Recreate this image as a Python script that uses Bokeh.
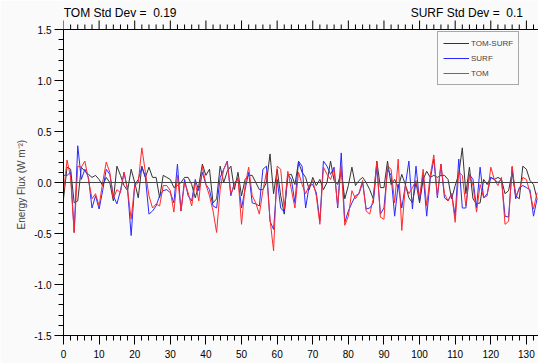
from bokeh.plotting import figure
from bokeh.models import (ColumnDataSource, Range1d, SingleIntervalTicker,
                          PrintfTickFormatter, Span, Legend, LegendItem, Label)
from bokeh.embed import file_html
from bokeh.resources import INLINE

# ---- data ----
time_index = list(range(134))
tom = [-0.10, 0.22, 0.05, -0.49, 0.16, 0.15, 0.21, 0.03, -0.16, -0.11,
       -0.23, 0.00, 0.20, 0.10, -0.16, -0.07, -0.10, 0.10, -0.07, -0.36,
       -0.03, 0.00, 0.34, 0.10, -0.13, -0.25, -0.21, -0.23, -0.03, -0.03,
       -0.08, -0.29, 0.07, -0.28, 0.00, -0.10, -0.23, 0.00, -0.18, 0.16,
       -0.02, -0.13, -0.28, -0.49, -0.07, 0.13, 0.20, -0.11, -0.03, 0.05,
       -0.41, -0.03, 0.15, -0.13, -0.20, -0.31, -0.08, 0.10, -0.36, -0.67,
       0.16, 0.13, -0.26, 0.11, -0.07, -0.25, 0.10, -0.02, -0.11, -0.03,
       0.02, -0.13, -0.41, 0.15, 0.08, 0.03, 0.13, -0.23, 0.16, -0.42,
       -0.33, -0.08, -0.16, -0.10, 0.02, -0.28, -0.31, -0.16, 0.20, -0.34,
       -0.36, 0.16, 0.13, -0.20, 0.23, -0.47, -0.03, -0.11, -0.05, 0.02,
       -0.15, 0.13, -0.23, 0.07, 0.27, -0.13, 0.18, -0.11, -0.18, -0.11,
       -0.39, 0.10, 0.07, -0.23, 0.08, -0.03, -0.29, -0.02, -0.15, -0.13,
       0.15, 0.03, -0.03, 0.05, -0.41, -0.38, 0.16, -0.13, -0.07, 0.05,
       0.03, -0.10, -0.26, -0.10]
surf = [0.07, 0.07, 0.10, -0.49, 0.36, 0.03, 0.13, 0.05, -0.25, -0.13,
        -0.26, -0.08, 0.13, 0.08, -0.13, -0.21, -0.08, 0.10, -0.07, -0.52,
        -0.02, 0.03, 0.15, 0.05, -0.31, -0.28, -0.23, -0.13, -0.08, -0.07,
        -0.10, -0.20, 0.18, -0.28, 0.03, -0.13, -0.18, 0.03, -0.08, 0.10,
        -0.02, -0.07, -0.23, -0.25, 0.05, 0.13, 0.21, -0.13, 0.00, 0.03,
        -0.25, -0.07, 0.10, -0.20, -0.21, -0.23, 0.13, 0.16, -0.38, -0.46,
        0.03, -0.25, -0.29, 0.08, 0.03, -0.20, 0.21, 0.16, -0.25, -0.03,
        -0.02, -0.10, -0.38, 0.21, 0.16, 0.08, 0.15, -0.25, 0.29, -0.39,
        -0.28, -0.20, -0.13, -0.11, 0.00, -0.26, -0.25, -0.20, 0.16, -0.31,
        -0.25, 0.13, 0.07, -0.33, -0.02, -0.25, -0.03, 0.21, -0.26, 0.16,
        -0.18, 0.08, -0.33, 0.03, 0.23, -0.15, 0.18, -0.15, -0.18, -0.11,
        -0.33, 0.23, -0.25, -0.25, 0.08, 0.03, -0.25, 0.15, -0.15, -0.11,
        0.05, 0.03, 0.00, 0.03, -0.33, -0.34, 0.15, -0.16, -0.05, -0.03,
        -0.05, -0.07, -0.33, -0.16]
tom_minus_surf = [-0.16, 0.15, 0.13, -0.20, -0.18, 0.15, 0.11, 0.08, 0.05, 0.07,
                  0.03, -0.03, 0.05, 0.00, -0.18, 0.16, 0.07, -0.03, -0.08, 0.13,
                  0.00, -0.15, 0.16, 0.05, 0.15, 0.05, 0.05, -0.15, 0.07, 0.05,
                  0.03, -0.05, -0.03, 0.00, 0.05, 0.05, -0.02, -0.15, -0.03, 0.18,
                  0.07, 0.13, -0.20, -0.16, 0.16, 0.00, 0.11, 0.16, -0.07, 0.10,
                  -0.13, 0.03, 0.07, 0.07, 0.00, -0.07, -0.07, 0.00, 0.28, -0.11,
                  0.13, -0.13, -0.31, 0.07, 0.08, -0.02, 0.20, 0.10, 0.05, -0.07,
                  0.05, -0.03, 0.03, -0.07, 0.00, 0.21, 0.02, -0.02, 0.11, -0.16,
                  -0.03, 0.15, -0.03, 0.02, 0.05, 0.00, -0.07, -0.16, 0.21, -0.05,
                  -0.05, 0.21, -0.02, 0.03, -0.05, 0.08, -0.02, -0.15, -0.20, 0.00,
                  -0.20, 0.03, 0.11, 0.05, 0.07, 0.05, 0.07, 0.07, 0.03, -0.16,
                  -0.03, 0.08, 0.34, -0.11, 0.15, -0.16, -0.21, -0.20, 0.03, -0.02,
                  0.05, 0.03, 0.05, 0.03, -0.11, -0.08, 0.10, -0.13, -0.16, 0.16,
                  0.13, 0.02, -0.02, -0.16]
series_names = ["TOM-SURF", "SURF", "TOM"]
tom_title = "TOM Std Dev = \u00a00.19"
surf_title = "SURF Std Dev = \u00a00.1"
y_title = "Energy Flux (W m\u207b\u00b2)"
x_major_ticks = list(range(0, 140, 10))
x_minor_ticks = [v for v in range(0, 136, 2) if v % 10 != 0]

assert len(tom) == len(surf) == len(tom_minus_surf) == len(time_index)

FONT = "Liberation Sans"
BG = "#fafafa"
Y_TOP = 1.5          # top of the drawn axis box
PX = 1.0 / 102.0     # one screen pixel in y data units (0.5 units = 51 px)

src = ColumnDataSource(dict(x=time_index, tom=tom, surf=surf, diff=tom_minus_surf))

# frame reaches the top of the canvas so that the top ticks and titles fit inside it
p = figure(width=538, height=363, output_backend="svg", toolbar_location=None,
           x_range=Range1d(0, 133.4), y_range=Range1d(-1.5, Y_TOP + 29 * PX),
           min_border_left=63, min_border_right=0, min_border_top=0, min_border_bottom=28,
           background_fill_color=BG, border_fill_color=BG, outline_line_color=None)
p.title.text = ""
p.grid.visible = False

def style_axis(ax):
    ax.axis_line_color = "black"
    ax.axis_line_width = 1
    ax.major_tick_line_color = "black"
    ax.minor_tick_line_color = "black"
    ax.major_tick_in = 0
    ax.major_tick_out = 9
    ax.minor_tick_in = 0
    ax.minor_tick_out = 5
    ax.major_label_text_font = FONT
    ax.major_label_text_font_size = "10px"
    ax.major_label_text_color = "black"

xa = p.xaxis[0]
xa.ticker = SingleIntervalTicker(interval=10, num_minor_ticks=5)
style_axis(xa)
xa.major_label_standoff = 5

ya = p.yaxis[0]
ya.ticker = SingleIntervalTicker(interval=0.5, num_minor_ticks=5)
ya.formatter = PrintfTickFormatter(format="%.1f")
ya.bounds = (-1.5, Y_TOP)
style_axis(ya)
ya.major_label_standoff = 3
# trailing no-break spaces move the centred title down onto the -1.5..1.5 span
ya.axis_label = y_title + "\u00a0" * 12
ya.axis_label_text_font = FONT
ya.axis_label_text_font_size = "10px"
ya.axis_label_text_font_style = "normal"
ya.axis_label_standoff = 4

# top border line with outward ticks (no labels)
p.add_layout(Span(location=Y_TOP, dimension="width", line_color="black", line_width=1))
p.segment(x0=x_major_ticks, x1=x_major_ticks, y0=[Y_TOP] * len(x_major_ticks),
          y1=[Y_TOP + 9 * PX] * len(x_major_ticks), line_color="black", line_width=1)
p.segment(x0=x_minor_ticks, x1=x_minor_ticks, y0=[Y_TOP] * len(x_minor_ticks),
          y1=[Y_TOP + 5 * PX] * len(x_minor_ticks), line_color="black", line_width=1)

p.add_layout(Span(location=0, dimension="width", line_color="#444444", line_width=1))

r_diff = p.line("x", "diff", source=src, line_color="#333333", line_width=1)
r_surf = p.line("x", "surf", source=src, line_color="#2a2aff", line_width=1)
r_tom = p.line("x", "tom", source=src, line_color="#ff2a2a", line_width=1)

legend = Legend(items=[LegendItem(label=series_names[0], renderers=[r_diff]),
                       LegendItem(label=series_names[1], renderers=[r_surf]),
                       LegendItem(label=series_names[2], renderers=[r_tom])],
                location=(374, 250), orientation="vertical",
                label_text_font=FONT, label_text_font_size="8px",
                label_height=12, glyph_height=12, glyph_width=26, spacing=3,
                padding=5, margin=0, label_standoff=2,
                border_line_color="#555555", border_line_width=1,
                background_fill_color=BG, background_fill_alpha=1)
p.add_layout(legend)

p.add_layout(Label(x=0.05, y=Y_TOP + 17 * PX, text=tom_title, text_font=FONT,
                   text_font_size="12px", text_baseline="middle", text_color="black"))
p.add_layout(Label(x=97.5, y=Y_TOP + 17 * PX, text=surf_title, text_font=FONT,
                   text_font_size="12px", text_baseline="middle", text_color="black"))

open("out.html", "w").write(file_html(p, INLINE))
